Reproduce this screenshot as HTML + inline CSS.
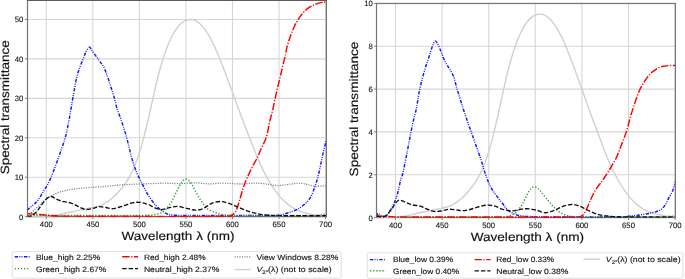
<!DOCTYPE html>
<html><head><meta charset="utf-8"><style>
html,body{margin:0;padding:0;background:#fff;width:685px;height:279px;overflow:hidden;}
svg{display:block;will-change:transform;text-rendering:geometricPrecision;font-family:"Liberation Sans",sans-serif;}
</style></head><body>
<svg width="685" height="279" viewBox="0 0 685 279">
<rect width="685" height="279" fill="#fff"/>
<defs><clipPath id="c1"><rect x="27.50" y="0.30" width="298.90" height="217.50"/></clipPath><clipPath id="c2"><rect x="376.50" y="3.50" width="298.90" height="215.20"/></clipPath></defs>
<line x1="46.30" y1="0.30" x2="46.30" y2="216.60" stroke="#d6d6d6" stroke-width="1.1"/>
<line x1="92.84" y1="0.30" x2="92.84" y2="216.60" stroke="#d6d6d6" stroke-width="1.1"/>
<line x1="139.38" y1="0.30" x2="139.38" y2="216.60" stroke="#d6d6d6" stroke-width="1.1"/>
<line x1="185.92" y1="0.30" x2="185.92" y2="216.60" stroke="#d6d6d6" stroke-width="1.1"/>
<line x1="232.46" y1="0.30" x2="232.46" y2="216.60" stroke="#d6d6d6" stroke-width="1.1"/>
<line x1="279.00" y1="0.30" x2="279.00" y2="216.60" stroke="#d6d6d6" stroke-width="1.1"/>
<line x1="325.54" y1="0.30" x2="325.54" y2="216.60" stroke="#d6d6d6" stroke-width="1.1"/>
<line x1="27.50" y1="216.70" x2="326.40" y2="216.70" stroke="#d6d6d6" stroke-width="1.1"/>
<line x1="27.50" y1="177.25" x2="326.40" y2="177.25" stroke="#d6d6d6" stroke-width="1.1"/>
<line x1="27.50" y1="137.80" x2="326.40" y2="137.80" stroke="#d6d6d6" stroke-width="1.1"/>
<line x1="27.50" y1="98.35" x2="326.40" y2="98.35" stroke="#d6d6d6" stroke-width="1.1"/>
<line x1="27.50" y1="58.90" x2="326.40" y2="58.90" stroke="#d6d6d6" stroke-width="1.1"/>
<line x1="27.50" y1="19.45" x2="326.40" y2="19.45" stroke="#d6d6d6" stroke-width="1.1"/>
<rect x="27.50" y="0.30" width="298.90" height="216.30" fill="none" stroke="#747474" stroke-width="1.2"/>
<line x1="26.90" y1="0.55" x2="327.00" y2="0.55" stroke="#5c5c5c" stroke-width="1.1"/>
<g clip-path="url(#c1)">
<path d="M27.68,216.66 C29.23,216.65 30.78,216.64 32.33,216.62 C33.89,216.60 35.44,216.58 36.99,216.54 C38.54,216.50 40.09,216.46 41.64,216.39 C43.19,216.33 44.75,216.25 46.30,216.15 C47.85,216.05 49.40,215.93 50.95,215.78 C52.50,215.63 54.06,215.47 55.60,215.24 C57.16,215.00 58.72,214.70 60.26,214.37 C61.82,214.04 63.36,213.61 64.91,213.25 C66.46,212.89 68.01,212.55 69.57,212.22 C71.11,211.90 72.67,211.64 74.22,211.32 C75.78,210.99 77.32,210.62 78.87,210.27 C80.43,209.92 81.97,209.55 83.53,209.22 C85.07,208.90 86.63,208.63 88.18,208.34 C89.73,208.04 91.29,207.79 92.84,207.47 C94.39,207.15 95.96,206.85 97.49,206.42 C99.06,205.98 100.67,205.55 102.14,204.86 C103.77,204.11 105.29,203.11 106.80,202.12 C108.40,201.07 109.97,199.97 111.45,198.75 C113.08,197.42 114.63,195.99 116.11,194.49 C117.74,192.83 119.27,191.07 120.76,189.28 C122.37,187.34 123.99,185.39 125.41,183.31 C127.09,180.85 128.68,178.30 130.07,175.67 C131.78,172.43 133.33,169.08 134.72,165.69 C136.43,161.52 138.01,157.28 139.38,152.99 C141.12,147.51 142.57,141.93 144.03,136.36 C145.67,130.09 147.20,123.79 148.68,117.48 C150.30,110.58 151.76,103.64 153.34,96.73 C154.87,90.03 156.29,83.31 157.99,76.65 C159.40,71.14 160.96,65.67 162.65,60.24 C164.06,55.68 165.57,51.12 167.30,46.67 C168.67,43.13 170.22,39.63 171.95,36.25 C173.32,33.58 174.86,30.95 176.61,28.52 C177.96,26.65 179.52,24.84 181.26,23.34 C182.63,22.15 184.26,21.14 185.92,20.45 C187.36,19.84 189.02,19.45 190.57,19.45 C192.12,19.45 193.81,19.79 195.22,20.44 C196.91,21.20 198.49,22.41 199.88,23.67 C201.59,25.23 203.14,27.05 204.53,28.92 C206.24,31.21 207.76,33.66 209.19,36.14 C210.86,39.05 212.39,42.06 213.84,45.09 C215.50,48.57 217.01,52.13 218.49,55.68 C220.11,59.56 221.63,63.47 223.15,67.38 C224.73,71.45 226.27,75.54 227.80,79.63 C229.37,83.83 230.91,88.03 232.46,92.24 C234.01,96.46 235.55,100.68 237.11,104.90 C238.66,109.10 240.19,113.30 241.76,117.48 C243.29,121.55 244.85,125.62 246.42,129.67 C247.95,133.64 249.52,137.59 251.07,141.55 C252.62,145.49 254.13,149.46 255.73,153.38 C257.23,157.08 258.73,160.79 260.38,164.43 C261.83,167.63 263.40,170.78 265.03,173.90 C266.50,176.70 268.06,179.46 269.69,182.18 C271.16,184.65 272.70,187.08 274.34,189.44 C275.81,191.55 277.35,193.62 279.00,195.59 C280.45,197.34 282.02,199.02 283.65,200.60 C285.12,202.04 286.69,203.40 288.30,204.67 C289.79,205.83 291.35,206.92 292.96,207.91 C294.45,208.83 296.01,209.66 297.61,210.39 C299.12,211.07 300.69,211.62 302.27,212.12 C303.79,212.61 305.36,212.97 306.92,213.35 C308.46,213.72 310.01,214.06 311.57,214.35 C313.12,214.64 314.67,214.88 316.23,215.08 C317.77,215.28 319.33,215.44 320.88,215.57 C322.43,215.71 323.98,215.78 325.54,215.89" fill="none" stroke="#d0d0d0" stroke-width="1.4" stroke-linejoin="round"/>
<path d="M27.20,215.80 C28.47,214.83 29.79,213.93 31.00,212.90 C32.96,211.23 34.81,209.45 36.70,207.70 C38.85,205.71 40.93,203.65 43.10,201.70 C44.53,200.42 45.92,199.06 47.50,198.00 C49.15,196.89 51.01,196.08 52.80,195.20 C54.94,194.15 57.04,192.94 59.30,192.20 C62.41,191.18 65.67,190.50 68.90,189.90 C72.64,189.20 76.42,188.72 80.20,188.30 C83.95,187.88 87.73,187.68 91.50,187.40 C95.27,187.12 99.04,186.92 102.80,186.60 C106.57,186.28 110.33,185.84 114.10,185.50 C117.33,185.21 120.56,184.89 123.80,184.70 C129.20,184.39 134.60,184.21 140.00,184.00 C144.00,183.84 148.00,183.73 152.00,183.60 C156.33,183.46 160.67,183.20 165.00,183.20 C170.00,183.20 175.00,183.67 180.00,183.60 C185.00,183.53 190.00,182.75 195.00,182.80 C200.00,182.85 205.00,183.84 210.00,183.90 C214.00,183.94 218.00,183.09 222.00,183.10 C228.00,183.12 234.00,183.98 240.00,184.00 C245.00,184.02 250.00,183.24 255.00,183.20 C258.33,183.17 261.68,183.44 265.00,183.80 C269.02,184.24 272.99,185.48 277.00,185.60 C280.65,185.71 284.33,184.88 288.00,184.50 C292.00,184.08 296.01,183.18 300.00,183.20 C302.68,183.21 305.35,184.07 308.00,184.60 C310.35,185.07 312.63,186.03 315.00,186.20 C318.66,186.46 322.40,186.00 326.10,185.90" fill="none" stroke="#718299" stroke-width="1.3" stroke-dasharray="1.1 1.3" stroke-linejoin="round"/>
<path d="M27.20,210.10 C28.47,208.97 29.73,207.83 31.00,206.70 C32.89,205.03 35.11,203.64 36.70,201.70 C39.15,198.71 41.01,195.19 43.10,191.90 C44.78,189.26 46.55,186.66 48.00,183.90 C49.51,181.03 50.78,178.01 52.00,175.00 C54.01,170.05 55.86,165.02 57.70,160.00 C59.03,156.36 60.26,152.68 61.50,149.00 C62.80,145.14 64.24,141.32 65.30,137.40 C66.58,132.66 67.53,127.82 68.50,123.00 C69.37,118.69 70.05,114.34 70.80,110.00 C71.61,105.30 72.32,100.58 73.20,95.90 C74.55,88.72 75.63,81.44 77.50,74.40 C78.86,69.28 80.99,64.36 82.90,59.40 C83.99,56.56 85.09,53.68 86.50,51.00 C87.25,49.58 88.43,47.29 89.40,47.10 C90.13,46.96 90.89,49.02 91.60,50.00 C93.45,52.55 95.26,55.14 97.10,57.70 C98.52,59.67 99.99,61.62 101.40,63.60 C102.32,64.89 103.36,66.11 104.10,67.50 C104.83,68.88 105.26,70.42 105.80,71.90 C106.73,74.46 107.64,77.02 108.50,79.60 C109.47,82.49 110.37,85.40 111.30,88.30 C112.24,91.23 113.26,94.14 114.10,97.10 C115.23,101.07 115.98,105.16 117.20,109.10 C118.45,113.12 120.17,117.00 121.50,121.00 C123.30,126.43 125.07,131.88 126.60,137.40 C128.67,144.88 130.16,152.54 132.30,160.00 C133.56,164.37 135.08,168.69 136.80,172.90 C138.01,175.86 139.67,178.63 141.10,181.50 C142.90,185.10 144.48,188.83 146.50,192.30 C148.45,195.66 150.58,198.97 153.00,202.00 C155.24,204.81 157.73,207.55 160.50,209.80 C162.73,211.61 165.31,213.28 168.00,214.20 C170.68,215.12 173.72,215.14 176.60,215.30 C181.05,215.54 185.53,215.40 190.00,215.40 C216.67,215.43 243.34,215.52 270.00,215.40 C273.34,215.39 276.73,215.55 280.00,215.00 C283.70,214.38 287.35,213.15 290.90,211.90 C293.68,210.92 296.48,209.80 299.00,208.30 C301.58,206.77 304.07,204.90 306.20,202.80 C308.07,200.97 309.73,198.79 311.00,196.50 C312.47,193.85 313.36,190.87 314.40,188.00 C315.53,184.87 316.62,181.71 317.50,178.50 C318.58,174.58 319.42,170.58 320.30,166.60 C321.08,163.08 321.71,159.52 322.50,156.00 C323.64,150.92 324.90,145.87 326.10,140.80" fill="none" stroke="#1414ff" stroke-width="1.45" stroke-dasharray="3.4 1.25 0.95 1.25 0.95 1.5" stroke-linejoin="round"/>
<path d="M27.20,215.40 C64.80,215.40 102.40,215.46 140.00,215.40 C142.67,215.40 145.34,215.31 148.00,215.20 C150.10,215.11 152.25,215.21 154.30,214.80 C156.75,214.31 159.40,213.78 161.50,212.50 C164.20,210.85 166.70,208.49 168.70,206.00 C170.87,203.29 172.33,199.99 174.00,196.90 C175.60,193.95 176.90,190.85 178.50,187.90 C179.74,185.61 180.90,183.18 182.50,181.20 C183.30,180.21 184.60,179.07 185.70,179.00 C186.77,178.93 188.11,179.95 189.00,180.80 C190.38,182.12 191.48,183.84 192.50,185.50 C193.68,187.41 194.50,189.54 195.60,191.50 C197.30,194.54 198.91,197.65 200.90,200.50 C203.08,203.62 205.24,207.04 208.10,209.40 C210.08,211.04 212.92,211.59 215.40,212.50 C217.39,213.23 219.44,213.82 221.50,214.30 C223.47,214.76 225.49,215.12 227.50,215.30 C229.99,215.52 232.50,215.49 235.00,215.50 C260.67,215.56 286.33,215.56 312.00,215.50 C314.00,215.50 316.01,215.44 318.00,215.30 C319.34,215.21 320.67,215.01 322.00,214.80 C323.37,214.58 324.73,214.27 326.10,214.00" fill="none" stroke="#2a9a2a" stroke-width="1.45" stroke-dasharray="1.25 1.85" stroke-linejoin="round"/>
<path d="M27.20,213.60 C29.80,213.80 32.40,214.00 35.00,214.20 C38.33,214.46 41.67,214.75 45.00,215.00 C48.33,215.25 51.66,215.52 55.00,215.70 C58.33,215.88 61.66,216.09 65.00,216.10 C119.33,216.29 173.70,216.50 228.00,216.30 C229.20,216.30 230.43,215.98 231.50,215.50 C232.43,215.08 233.28,214.35 234.00,213.60 C234.82,212.75 235.64,211.79 236.10,210.70 C237.48,207.42 238.43,203.92 239.50,200.50 C240.63,196.89 241.53,193.20 242.70,189.60 C243.70,186.53 244.80,183.49 246.00,180.50 C247.00,177.99 248.16,175.55 249.30,173.10 C250.56,170.38 251.82,167.66 253.20,165.00 C254.35,162.79 255.81,160.74 256.90,158.50 C258.41,155.40 259.58,152.14 261.00,149.00 C262.28,146.14 263.77,143.38 265.00,140.50 C265.77,138.71 266.53,136.89 267.00,135.00 C268.07,130.69 268.61,126.24 269.60,121.90 C270.51,117.91 271.76,113.99 272.70,110.00 C273.66,105.95 274.41,101.86 275.30,97.80 C276.01,94.53 276.73,91.26 277.50,88.00 C278.26,84.76 279.13,81.54 279.90,78.30 C281.03,73.54 282.06,68.76 283.20,64.00 C283.76,61.66 284.47,59.35 285.00,57.00 C285.83,53.32 286.29,49.53 287.30,45.90 C288.56,41.37 290.11,36.89 291.80,32.50 C293.11,29.09 294.51,25.67 296.30,22.50 C298.14,19.24 300.25,16.02 302.70,13.20 C304.68,10.92 307.10,8.90 309.60,7.20 C311.70,5.77 314.13,4.76 316.50,3.80 C317.93,3.22 319.48,2.85 321.00,2.60 C322.68,2.32 324.40,2.33 326.10,2.20" fill="none" stroke="#ff0000" stroke-width="1.45" stroke-dasharray="7.4 1.6 1.2 1.6" stroke-linejoin="round"/>
<path d="M27.20,216.10 C28.73,216.00 30.47,216.41 31.80,215.80 C33.64,214.95 35.29,213.27 36.70,211.70 C38.52,209.67 39.84,207.19 41.50,205.00 C43.07,202.92 44.48,200.58 46.40,198.90 C47.72,197.75 49.60,196.50 51.20,196.50 C52.80,196.50 54.36,198.18 56.00,198.90 C57.86,199.72 59.75,200.55 61.70,201.10 C64.05,201.75 66.53,201.91 68.90,202.50 C70.56,202.91 72.23,203.41 73.80,204.10 C76.00,205.07 78.00,206.52 80.20,207.50 C82.03,208.32 83.95,209.36 85.90,209.50 C88.25,209.66 90.73,208.91 93.10,208.40 C95.03,207.98 96.86,206.84 98.80,206.70 C101.16,206.54 103.61,207.15 106.00,207.50 C108.18,207.82 110.35,208.78 112.50,208.70 C114.91,208.61 117.32,207.64 119.70,207.00 C121.89,206.41 124.05,205.72 126.20,205.00 C128.15,204.35 130.01,203.32 132.00,202.90 C134.27,202.42 136.69,202.12 139.00,202.30 C141.76,202.52 144.58,203.18 147.20,204.10 C150.28,205.18 153.05,207.13 156.10,208.30 C157.82,208.96 159.70,209.67 161.50,209.60 C163.90,209.50 166.28,208.29 168.70,207.80 C171.54,207.22 174.44,206.32 177.30,206.40 C180.41,206.49 183.50,207.67 186.60,208.30 C189.60,208.91 192.60,210.01 195.60,210.10 C197.96,210.17 200.52,209.72 202.70,208.80 C205.89,207.45 208.49,204.61 211.70,203.30 C214.46,202.17 217.64,201.45 220.60,201.50 C223.61,201.55 226.67,202.68 229.60,203.60 C232.37,204.48 235.01,205.79 237.70,206.90 C240.81,208.19 243.82,209.72 247.00,210.80 C250.59,212.02 254.30,212.98 258.00,213.80 C260.63,214.38 263.32,214.72 266.00,215.00 C269.15,215.32 272.33,215.48 275.50,215.60 C278.66,215.72 281.83,215.69 285.00,215.70 C298.70,215.73 312.40,215.70 326.10,215.70" fill="none" stroke="#111111" stroke-width="1.35" stroke-dasharray="4.5 1.9" stroke-linejoin="round"/>
</g>
<line x1="46.30" y1="216.60" x2="46.30" y2="219.20" stroke="#747474" stroke-width="0.9"/>
<text x="39.85" y="227.10" font-size="7.80" fill="#111" stroke="#111" stroke-width="0.1" textLength="12.90" lengthAdjust="spacingAndGlyphs" font-family="Liberation Sans, sans-serif">400</text>
<line x1="92.84" y1="216.60" x2="92.84" y2="219.20" stroke="#747474" stroke-width="0.9"/>
<text x="86.39" y="227.10" font-size="7.80" fill="#111" stroke="#111" stroke-width="0.1" textLength="12.90" lengthAdjust="spacingAndGlyphs" font-family="Liberation Sans, sans-serif">450</text>
<line x1="139.38" y1="216.60" x2="139.38" y2="219.20" stroke="#747474" stroke-width="0.9"/>
<text x="132.93" y="227.10" font-size="7.80" fill="#111" stroke="#111" stroke-width="0.1" textLength="12.90" lengthAdjust="spacingAndGlyphs" font-family="Liberation Sans, sans-serif">500</text>
<line x1="185.92" y1="216.60" x2="185.92" y2="219.20" stroke="#747474" stroke-width="0.9"/>
<text x="179.47" y="227.10" font-size="7.80" fill="#111" stroke="#111" stroke-width="0.1" textLength="12.90" lengthAdjust="spacingAndGlyphs" font-family="Liberation Sans, sans-serif">550</text>
<line x1="232.46" y1="216.60" x2="232.46" y2="219.20" stroke="#747474" stroke-width="0.9"/>
<text x="226.01" y="227.10" font-size="7.80" fill="#111" stroke="#111" stroke-width="0.1" textLength="12.90" lengthAdjust="spacingAndGlyphs" font-family="Liberation Sans, sans-serif">600</text>
<line x1="279.00" y1="216.60" x2="279.00" y2="219.20" stroke="#747474" stroke-width="0.9"/>
<text x="272.55" y="227.10" font-size="7.80" fill="#111" stroke="#111" stroke-width="0.1" textLength="12.90" lengthAdjust="spacingAndGlyphs" font-family="Liberation Sans, sans-serif">650</text>
<line x1="325.54" y1="216.60" x2="325.54" y2="219.20" stroke="#747474" stroke-width="0.9"/>
<text x="319.09" y="227.10" font-size="7.80" fill="#111" stroke="#111" stroke-width="0.1" textLength="12.90" lengthAdjust="spacingAndGlyphs" font-family="Liberation Sans, sans-serif">700</text>
<line x1="24.90" y1="216.70" x2="27.50" y2="216.70" stroke="#747474" stroke-width="0.9"/>
<text x="19.10" y="219.60" font-size="7.80" fill="#111" stroke="#111" stroke-width="0.1" textLength="4.30" lengthAdjust="spacingAndGlyphs" font-family="Liberation Sans, sans-serif">0</text>
<line x1="24.90" y1="177.25" x2="27.50" y2="177.25" stroke="#747474" stroke-width="0.9"/>
<text x="14.80" y="180.15" font-size="7.80" fill="#111" stroke="#111" stroke-width="0.1" textLength="8.60" lengthAdjust="spacingAndGlyphs" font-family="Liberation Sans, sans-serif">10</text>
<line x1="24.90" y1="137.80" x2="27.50" y2="137.80" stroke="#747474" stroke-width="0.9"/>
<text x="14.80" y="140.70" font-size="7.80" fill="#111" stroke="#111" stroke-width="0.1" textLength="8.60" lengthAdjust="spacingAndGlyphs" font-family="Liberation Sans, sans-serif">20</text>
<line x1="24.90" y1="98.35" x2="27.50" y2="98.35" stroke="#747474" stroke-width="0.9"/>
<text x="14.80" y="101.25" font-size="7.80" fill="#111" stroke="#111" stroke-width="0.1" textLength="8.60" lengthAdjust="spacingAndGlyphs" font-family="Liberation Sans, sans-serif">30</text>
<line x1="24.90" y1="58.90" x2="27.50" y2="58.90" stroke="#747474" stroke-width="0.9"/>
<text x="14.80" y="61.80" font-size="7.80" fill="#111" stroke="#111" stroke-width="0.1" textLength="8.60" lengthAdjust="spacingAndGlyphs" font-family="Liberation Sans, sans-serif">40</text>
<line x1="24.90" y1="19.45" x2="27.50" y2="19.45" stroke="#747474" stroke-width="0.9"/>
<text x="14.80" y="22.35" font-size="7.80" fill="#111" stroke="#111" stroke-width="0.1" textLength="8.60" lengthAdjust="spacingAndGlyphs" font-family="Liberation Sans, sans-serif">50</text>
<line x1="395.50" y1="3.50" x2="395.50" y2="217.50" stroke="#d6d6d6" stroke-width="1.1"/>
<line x1="442.10" y1="3.50" x2="442.10" y2="217.50" stroke="#d6d6d6" stroke-width="1.1"/>
<line x1="488.70" y1="3.50" x2="488.70" y2="217.50" stroke="#d6d6d6" stroke-width="1.1"/>
<line x1="535.30" y1="3.50" x2="535.30" y2="217.50" stroke="#d6d6d6" stroke-width="1.1"/>
<line x1="581.90" y1="3.50" x2="581.90" y2="217.50" stroke="#d6d6d6" stroke-width="1.1"/>
<line x1="628.50" y1="3.50" x2="628.50" y2="217.50" stroke="#d6d6d6" stroke-width="1.1"/>
<line x1="675.10" y1="3.50" x2="675.10" y2="217.50" stroke="#d6d6d6" stroke-width="1.1"/>
<line x1="376.50" y1="217.60" x2="675.40" y2="217.60" stroke="#d6d6d6" stroke-width="1.1"/>
<line x1="376.50" y1="174.76" x2="675.40" y2="174.76" stroke="#d6d6d6" stroke-width="1.1"/>
<line x1="376.50" y1="131.92" x2="675.40" y2="131.92" stroke="#d6d6d6" stroke-width="1.1"/>
<line x1="376.50" y1="89.08" x2="675.40" y2="89.08" stroke="#d6d6d6" stroke-width="1.1"/>
<line x1="376.50" y1="46.24" x2="675.40" y2="46.24" stroke="#d6d6d6" stroke-width="1.1"/>
<line x1="376.50" y1="3.40" x2="675.40" y2="3.40" stroke="#d6d6d6" stroke-width="1.1"/>
<rect x="376.50" y="3.50" width="298.90" height="214.00" fill="none" stroke="#747474" stroke-width="1.2"/>
<g clip-path="url(#c2)">
<path d="M376.86,217.56 C378.41,217.55 379.97,217.54 381.52,217.52 C383.07,217.50 384.63,217.48 386.18,217.44 C387.73,217.40 389.29,217.35 390.84,217.28 C392.39,217.22 393.95,217.14 395.50,217.03 C397.05,216.92 398.61,216.81 400.16,216.65 C401.72,216.50 403.28,216.33 404.82,216.09 C406.38,215.85 407.94,215.54 409.48,215.20 C411.04,214.85 412.58,214.41 414.14,214.04 C415.69,213.67 417.24,213.31 418.80,212.98 C420.35,212.65 421.91,212.38 423.46,212.04 C425.02,211.71 426.57,211.33 428.12,210.97 C429.67,210.61 431.22,210.22 432.78,209.89 C434.33,209.56 435.89,209.27 437.44,208.97 C438.99,208.67 440.55,208.40 442.10,208.08 C443.66,207.75 445.23,207.44 446.76,207.00 C448.34,206.54 449.94,206.09 451.42,205.39 C453.05,204.61 454.58,203.58 456.08,202.56 C457.68,201.48 459.26,200.34 460.74,199.09 C462.37,197.71 463.93,196.23 465.40,194.69 C467.03,192.97 468.57,191.15 470.06,189.31 C471.68,187.31 473.30,185.29 474.72,183.15 C476.40,180.61 477.99,177.98 479.38,175.27 C481.10,171.92 482.65,168.47 484.04,164.98 C485.75,160.67 487.34,156.30 488.70,151.87 C490.44,146.21 491.90,140.46 493.36,134.72 C495.01,128.25 496.54,121.75 498.02,115.24 C499.64,108.12 501.10,100.97 502.68,93.84 C504.21,86.93 505.64,79.99 507.34,73.12 C508.75,67.44 510.31,61.79 512.00,56.19 C513.42,51.48 514.93,46.79 516.66,42.19 C518.04,38.54 519.58,34.93 521.32,31.44 C522.69,28.69 524.22,25.98 525.98,23.47 C527.33,21.54 528.89,19.68 530.64,18.12 C532.00,16.90 533.63,15.86 535.30,15.14 C536.74,14.52 538.41,14.11 539.96,14.11 C541.51,14.11 543.21,14.47 544.62,15.13 C546.32,15.92 547.90,17.17 549.28,18.46 C551.00,20.08 552.55,21.96 553.94,23.88 C555.65,26.24 557.17,28.77 558.60,31.33 C560.28,34.33 561.81,37.43 563.26,40.56 C564.92,44.16 566.43,47.82 567.92,51.49 C569.54,55.49 571.06,59.52 572.58,63.56 C574.16,67.76 575.71,71.98 577.24,76.19 C578.81,80.52 580.35,84.86 581.90,89.20 C583.46,93.55 585.00,97.91 586.56,102.26 C588.11,106.59 589.64,110.92 591.22,115.24 C592.75,119.44 594.31,123.64 595.88,127.82 C597.42,131.91 598.98,135.99 600.54,140.07 C602.09,144.14 603.60,148.23 605.20,152.28 C606.71,156.10 608.21,159.92 609.86,163.68 C611.31,166.98 612.88,170.23 614.52,173.44 C615.99,176.33 617.55,179.19 619.18,181.99 C620.66,184.53 622.20,187.04 623.84,189.48 C625.31,191.65 626.85,193.79 628.50,195.83 C629.96,197.63 631.53,199.35 633.16,201.00 C634.63,202.47 636.20,203.88 637.82,205.19 C639.30,206.39 640.87,207.51 642.48,208.53 C643.97,209.47 645.54,210.34 647.14,211.09 C648.64,211.79 650.22,212.36 651.80,212.88 C653.33,213.38 654.90,213.76 656.46,214.14 C658.00,214.52 659.56,214.87 661.12,215.17 C662.66,215.47 664.22,215.72 665.78,215.93 C667.33,216.14 668.88,216.30 670.44,216.44 C671.99,216.57 673.55,216.66 675.10,216.77" fill="none" stroke="#d0d0d0" stroke-width="1.4" stroke-linejoin="round"/>
<path d="M376.60,213.20 C377.17,214.03 377.75,215.49 378.30,215.70 C378.62,215.82 378.85,214.23 379.20,214.20 C379.55,214.17 379.95,215.13 380.40,215.50 C380.85,215.88 381.35,216.30 381.90,216.45 C382.55,216.62 383.32,216.58 384.00,216.45 C384.99,216.26 386.21,216.18 386.90,215.50 C388.37,214.06 389.42,211.97 390.50,210.10 C391.82,207.83 393.03,205.49 394.10,203.10 C395.16,200.72 396.12,198.28 396.90,195.80 C397.79,192.98 398.42,190.08 399.10,187.20 C399.62,184.98 399.91,182.70 400.50,180.50 C401.11,178.23 402.13,176.08 402.70,173.80 C403.83,169.24 404.67,164.61 405.60,160.00 C406.61,155.01 407.54,150.00 408.50,145.00 C409.34,140.63 410.13,136.26 411.00,131.90 C411.79,127.93 412.58,123.95 413.50,120.00 C414.28,116.65 415.42,113.37 416.10,110.00 C417.52,103.01 418.31,95.88 419.80,88.90 C421.14,82.64 422.82,76.45 424.60,70.30 C426.09,65.15 427.94,60.10 429.60,55.00 C430.57,52.00 431.36,48.93 432.50,46.00 C433.19,44.23 434.09,41.24 435.10,40.90 C435.85,40.64 437.10,42.98 437.80,44.20 C438.93,46.18 439.72,48.38 440.60,50.50 C442.12,54.15 443.25,57.97 445.00,61.50 C446.52,64.57 448.70,67.31 450.40,70.30 C451.60,72.41 452.89,74.52 453.70,76.80 C455.09,80.72 455.82,84.89 457.00,88.90 C458.09,92.62 459.35,96.30 460.50,100.00 C461.38,102.83 462.18,105.68 463.10,108.50 C464.35,112.35 465.68,116.17 467.00,120.00 C468.38,123.97 469.80,127.93 471.20,131.90 C472.80,136.43 474.40,140.97 476.00,145.50 C477.70,150.33 479.49,155.14 481.10,160.00 C482.66,164.70 483.82,169.54 485.50,174.20 C487.12,178.71 488.74,183.30 491.00,187.50 C493.11,191.43 495.98,194.97 498.60,198.60 C500.14,200.73 501.88,202.72 503.50,204.80 C504.74,206.39 505.73,208.26 507.20,209.60 C508.76,211.02 510.71,212.10 512.60,213.10 C514.31,214.00 516.15,214.76 518.00,215.30 C519.38,215.71 520.86,215.80 522.30,215.95 C524.86,216.22 527.43,216.40 530.00,216.55 C533.33,216.74 536.66,216.94 540.00,216.95 C566.66,217.07 593.34,217.16 620.00,216.95 C623.01,216.93 626.01,216.54 629.00,216.25 C631.97,215.96 634.94,215.59 637.90,215.20 C639.94,214.94 641.97,214.64 644.00,214.30 C646.34,213.91 648.69,213.53 651.00,213.00 C653.09,212.53 655.20,212.04 657.20,211.30 C658.70,210.74 660.20,210.01 661.50,209.10 C662.53,208.38 663.44,207.41 664.20,206.40 C665.10,205.21 665.79,203.83 666.50,202.50 C667.55,200.53 668.46,198.48 669.50,196.50 C670.53,194.55 671.90,192.74 672.70,190.70 C673.80,187.88 674.37,184.83 675.20,181.90" fill="none" stroke="#1414ff" stroke-width="1.45" stroke-dasharray="3.4 1.25 0.95 1.25 0.95 1.5" stroke-linejoin="round"/>
<path d="M376.40,216.85 C417.60,216.85 458.80,216.98 500.00,216.85 C502.00,216.84 504.02,216.71 506.00,216.45 C507.48,216.26 509.02,216.04 510.40,215.50 C512.28,214.76 514.29,213.92 515.80,212.60 C517.89,210.78 519.60,208.40 521.20,206.10 C522.47,204.27 523.37,202.19 524.40,200.20 C525.87,197.35 527.12,194.38 528.70,191.60 C529.32,190.51 530.07,189.41 531.00,188.60 C531.94,187.78 533.18,186.72 534.30,186.70 C535.51,186.68 537.00,187.60 538.00,188.50 C540.07,190.37 541.67,192.83 543.50,195.00 C545.34,197.19 547.13,199.44 549.00,201.60 C550.79,203.67 552.49,205.86 554.50,207.70 C556.82,209.83 559.27,212.01 562.00,213.50 C564.37,214.79 567.13,215.55 569.80,216.05 C573.13,216.67 576.59,216.82 580.00,216.85 C608.32,217.09 636.67,217.01 665.00,216.85 C666.67,216.84 668.33,216.49 670.00,216.35 C671.73,216.21 673.47,216.12 675.20,216.00" fill="none" stroke="#2a9a2a" stroke-width="1.45" stroke-dasharray="1.25 1.85" stroke-linejoin="round"/>
<path d="M376.40,215.80 C379.27,215.98 382.13,216.19 385.00,216.35 C388.33,216.54 391.66,216.84 395.00,216.85 C456.00,217.01 517.02,217.01 578.00,216.85 C578.92,216.85 579.87,216.69 580.70,216.35 C581.70,215.94 582.80,215.41 583.50,214.60 C584.63,213.29 585.43,211.60 586.20,210.00 C587.60,207.10 588.68,204.04 590.00,201.10 C591.25,198.31 592.47,195.49 593.90,192.80 C594.97,190.79 596.20,188.86 597.50,187.00 C598.73,185.23 600.23,183.65 601.50,181.90 C602.90,179.98 604.19,177.98 605.50,176.00 C606.83,173.98 608.15,171.96 609.40,169.90 C610.58,167.96 611.67,165.97 612.80,164.00 C613.94,162.00 615.25,160.09 616.20,158.00 C617.98,154.09 619.45,150.02 621.00,146.00 C622.81,141.32 624.76,136.67 626.30,131.90 C627.99,126.67 629.17,121.28 630.70,116.00 C631.57,112.98 632.54,109.99 633.50,107.00 C634.47,103.99 635.41,100.97 636.50,98.00 C637.55,95.14 638.62,92.26 639.90,89.50 C640.78,87.60 641.93,85.81 643.00,84.00 C643.96,82.38 644.93,80.75 646.00,79.20 C646.93,77.85 647.92,76.53 649.00,75.30 C650.05,74.10 651.19,72.94 652.40,71.90 C653.52,70.94 654.73,70.05 656.00,69.30 C657.43,68.45 658.95,67.70 660.50,67.10 C661.62,66.67 662.82,66.42 664.00,66.20 C665.48,65.92 666.99,65.71 668.50,65.60 C670.73,65.44 672.97,65.47 675.20,65.40" fill="none" stroke="#ff0000" stroke-width="1.45" stroke-dasharray="7.4 1.6 1.2 1.6" stroke-linejoin="round"/>
<path d="M376.60,216.35 C379.07,216.45 381.76,217.25 384.00,216.65 C385.66,216.20 387.03,214.51 388.30,213.20 C389.89,211.56 391.27,209.67 392.60,207.80 C393.67,206.30 394.33,204.49 395.50,203.10 C396.49,201.92 397.74,200.34 399.10,200.10 C400.61,199.84 402.48,200.98 404.10,201.60 C406.51,202.52 408.75,203.96 411.20,204.70 C413.05,205.26 415.09,205.12 417.00,205.50 C418.92,205.88 420.86,206.33 422.70,207.00 C424.53,207.66 426.18,208.79 428.00,209.50 C429.95,210.26 431.95,211.16 434.00,211.40 C436.28,211.66 438.69,211.31 441.00,211.00 C443.82,210.61 446.58,209.51 449.40,209.30 C451.58,209.14 453.80,209.67 456.00,209.90 C458.17,210.13 460.34,210.76 462.50,210.70 C465.01,210.63 467.54,210.09 470.00,209.50 C472.71,208.85 475.30,207.70 478.00,207.00 C480.83,206.27 483.71,205.40 486.60,205.20 C489.04,205.03 491.62,205.29 494.00,205.90 C497.09,206.69 499.92,208.52 503.00,209.40 C505.75,210.19 508.66,210.81 511.50,210.90 C513.66,210.97 515.84,210.25 518.00,209.90 C520.14,209.55 522.25,208.98 524.40,208.80 C526.25,208.65 528.15,208.68 530.00,208.90 C532.35,209.18 534.70,209.70 537.00,210.30 C539.57,210.97 542.03,212.53 544.60,212.70 C547.03,212.86 549.62,212.03 552.00,211.30 C554.08,210.66 555.99,209.48 558.00,208.60 C560.32,207.58 562.58,206.31 565.00,205.60 C567.25,204.94 569.68,204.45 572.00,204.50 C574.34,204.55 576.78,205.10 579.00,205.90 C581.88,206.94 584.51,208.69 587.30,210.00 C589.84,211.19 592.37,212.43 595.00,213.40 C597.27,214.23 599.63,214.94 602.00,215.40 C604.36,215.86 606.80,215.96 609.20,216.15 C612.80,216.44 616.39,216.81 620.00,216.85 C638.39,217.05 656.80,216.85 675.20,216.85" fill="none" stroke="#111111" stroke-width="1.35" stroke-dasharray="4.5 1.9" stroke-linejoin="round"/>
</g>
<line x1="395.50" y1="217.50" x2="395.50" y2="220.10" stroke="#747474" stroke-width="0.9"/>
<text x="389.05" y="227.60" font-size="7.80" fill="#111" stroke="#111" stroke-width="0.1" textLength="12.90" lengthAdjust="spacingAndGlyphs" font-family="Liberation Sans, sans-serif">400</text>
<line x1="442.10" y1="217.50" x2="442.10" y2="220.10" stroke="#747474" stroke-width="0.9"/>
<text x="435.65" y="227.60" font-size="7.80" fill="#111" stroke="#111" stroke-width="0.1" textLength="12.90" lengthAdjust="spacingAndGlyphs" font-family="Liberation Sans, sans-serif">450</text>
<line x1="488.70" y1="217.50" x2="488.70" y2="220.10" stroke="#747474" stroke-width="0.9"/>
<text x="482.25" y="227.60" font-size="7.80" fill="#111" stroke="#111" stroke-width="0.1" textLength="12.90" lengthAdjust="spacingAndGlyphs" font-family="Liberation Sans, sans-serif">500</text>
<line x1="535.30" y1="217.50" x2="535.30" y2="220.10" stroke="#747474" stroke-width="0.9"/>
<text x="528.85" y="227.60" font-size="7.80" fill="#111" stroke="#111" stroke-width="0.1" textLength="12.90" lengthAdjust="spacingAndGlyphs" font-family="Liberation Sans, sans-serif">550</text>
<line x1="581.90" y1="217.50" x2="581.90" y2="220.10" stroke="#747474" stroke-width="0.9"/>
<text x="575.45" y="227.60" font-size="7.80" fill="#111" stroke="#111" stroke-width="0.1" textLength="12.90" lengthAdjust="spacingAndGlyphs" font-family="Liberation Sans, sans-serif">600</text>
<line x1="628.50" y1="217.50" x2="628.50" y2="220.10" stroke="#747474" stroke-width="0.9"/>
<text x="622.05" y="227.60" font-size="7.80" fill="#111" stroke="#111" stroke-width="0.1" textLength="12.90" lengthAdjust="spacingAndGlyphs" font-family="Liberation Sans, sans-serif">650</text>
<line x1="675.10" y1="217.50" x2="675.10" y2="220.10" stroke="#747474" stroke-width="0.9"/>
<text x="668.65" y="227.60" font-size="7.80" fill="#111" stroke="#111" stroke-width="0.1" textLength="12.90" lengthAdjust="spacingAndGlyphs" font-family="Liberation Sans, sans-serif">700</text>
<line x1="373.90" y1="217.60" x2="376.50" y2="217.60" stroke="#747474" stroke-width="0.9"/>
<text x="368.60" y="220.50" font-size="7.80" fill="#111" stroke="#111" stroke-width="0.1" textLength="4.30" lengthAdjust="spacingAndGlyphs" font-family="Liberation Sans, sans-serif">0</text>
<line x1="373.90" y1="174.76" x2="376.50" y2="174.76" stroke="#747474" stroke-width="0.9"/>
<text x="368.60" y="177.66" font-size="7.80" fill="#111" stroke="#111" stroke-width="0.1" textLength="4.30" lengthAdjust="spacingAndGlyphs" font-family="Liberation Sans, sans-serif">2</text>
<line x1="373.90" y1="131.92" x2="376.50" y2="131.92" stroke="#747474" stroke-width="0.9"/>
<text x="368.60" y="134.82" font-size="7.80" fill="#111" stroke="#111" stroke-width="0.1" textLength="4.30" lengthAdjust="spacingAndGlyphs" font-family="Liberation Sans, sans-serif">4</text>
<line x1="373.90" y1="89.08" x2="376.50" y2="89.08" stroke="#747474" stroke-width="0.9"/>
<text x="368.60" y="91.98" font-size="7.80" fill="#111" stroke="#111" stroke-width="0.1" textLength="4.30" lengthAdjust="spacingAndGlyphs" font-family="Liberation Sans, sans-serif">6</text>
<line x1="373.90" y1="46.24" x2="376.50" y2="46.24" stroke="#747474" stroke-width="0.9"/>
<text x="368.60" y="49.14" font-size="7.80" fill="#111" stroke="#111" stroke-width="0.1" textLength="4.30" lengthAdjust="spacingAndGlyphs" font-family="Liberation Sans, sans-serif">8</text>
<line x1="373.90" y1="3.40" x2="376.50" y2="3.40" stroke="#747474" stroke-width="0.9"/>
<text x="364.30" y="6.30" font-size="7.80" fill="#111" stroke="#111" stroke-width="0.1" textLength="8.60" lengthAdjust="spacingAndGlyphs" font-family="Liberation Sans, sans-serif">10</text>
<text x="121.60" y="239.70" font-size="12" fill="#111" stroke="#111" stroke-width="0.15" textLength="112.80" lengthAdjust="spacingAndGlyphs" font-family="Liberation Sans, sans-serif">Wavelength λ (nm)</text>
<text x="470.70" y="240.90" font-size="12" fill="#111" stroke="#111" stroke-width="0.15" textLength="113.40" lengthAdjust="spacingAndGlyphs" font-family="Liberation Sans, sans-serif">Wavelength λ (nm)</text>
<text transform="translate(9.40,174.30) rotate(-90)" x="0" y="0" font-size="12" fill="#111" stroke="#111" stroke-width="0.15" textLength="134.10" lengthAdjust="spacingAndGlyphs" font-family="Liberation Sans, sans-serif">Spectral transmittance</text>
<text transform="translate(357.90,176.40) rotate(-90)" x="0" y="0" font-size="12" fill="#111" stroke="#111" stroke-width="0.15" textLength="134.70" lengthAdjust="spacingAndGlyphs" font-family="Liberation Sans, sans-serif">Spectral transmittance</text>
<rect x="12.20" y="251.60" width="329.00" height="26.50" rx="1.8" ry="1.8" fill="#fff" stroke="#dcdcdc" stroke-width="0.9"/>
<line x1="14.70" y1="256.80" x2="30.00" y2="256.80" stroke="#1414ff" stroke-width="1.45" stroke-dasharray="3.4 1.25 0.95 1.25 0.95 1.5"/>
<text x="35.90" y="260.00" font-size="7.7" fill="#111" stroke="#111" stroke-width="0.12" textLength="64.40" lengthAdjust="spacingAndGlyphs" font-family="Liberation Sans, sans-serif">Blue_high 2.25%</text>
<line x1="14.70" y1="268.60" x2="30.00" y2="268.60" stroke="#2a9a2a" stroke-width="1.45" stroke-dasharray="1.25 1.85"/>
<text x="35.90" y="271.60" font-size="7.7" fill="#111" stroke="#111" stroke-width="0.12" textLength="70.40" lengthAdjust="spacingAndGlyphs" font-family="Liberation Sans, sans-serif">Green_high 2.67%</text>
<line x1="122.20" y1="256.80" x2="138.00" y2="256.80" stroke="#ff0000" stroke-width="1.45" stroke-dasharray="7.4 1.6 1.2 1.6"/>
<text x="143.90" y="260.00" font-size="7.7" fill="#111" stroke="#111" stroke-width="0.12" textLength="61.80" lengthAdjust="spacingAndGlyphs" font-family="Liberation Sans, sans-serif">Red_high 2.48%</text>
<line x1="122.20" y1="268.60" x2="138.00" y2="268.60" stroke="#111111" stroke-width="1.35" stroke-dasharray="4.5 1.9"/>
<text x="143.90" y="271.60" font-size="7.7" fill="#111" stroke="#111" stroke-width="0.12" textLength="75.60" lengthAdjust="spacingAndGlyphs" font-family="Liberation Sans, sans-serif">Neutral_high 2.37%</text>
<line x1="234.70" y1="256.80" x2="250.90" y2="256.80" stroke="#718299" stroke-width="1.3" stroke-dasharray="1.1 1.3"/>
<text x="256.50" y="260.00" font-size="7.7" fill="#111" stroke="#111" stroke-width="0.12" textLength="81.90" lengthAdjust="spacingAndGlyphs" font-family="Liberation Sans, sans-serif">View Windows 8.28%</text>
<line x1="234.70" y1="269.60" x2="250.90" y2="269.60" stroke="#d0d0d0" stroke-width="1.4"/>
<text x="256.50" y="271.60" font-size="7.7" fill="#111" stroke="#111" stroke-width="0.12" textLength="75.20" lengthAdjust="spacingAndGlyphs" font-family="Liberation Sans, sans-serif"><tspan font-style="italic">V</tspan><tspan font-size="5.2" dy="2.0">2°</tspan><tspan dy="-2.0">(λ) (not to scale)</tspan></text>
<rect x="367.20" y="252.80" width="315.70" height="25.40" rx="1.8" ry="1.8" fill="#fff" stroke="#dcdcdc" stroke-width="0.9"/>
<line x1="370.00" y1="259.60" x2="385.70" y2="259.60" stroke="#1414ff" stroke-width="1.45" stroke-dasharray="3.4 1.25 0.95 1.25 0.95 1.5"/>
<text x="392.90" y="262.40" font-size="7.7" fill="#111" stroke="#111" stroke-width="0.12" textLength="60.30" lengthAdjust="spacingAndGlyphs" font-family="Liberation Sans, sans-serif">Blue_low 0.39%</text>
<line x1="370.00" y1="270.80" x2="385.70" y2="270.80" stroke="#2a9a2a" stroke-width="1.45" stroke-dasharray="1.25 1.85"/>
<text x="392.90" y="274.20" font-size="7.7" fill="#111" stroke="#111" stroke-width="0.12" textLength="66.30" lengthAdjust="spacingAndGlyphs" font-family="Liberation Sans, sans-serif">Green_low 0.40%</text>
<line x1="474.50" y1="259.60" x2="490.60" y2="259.60" stroke="#ff0000" stroke-width="1.45" stroke-dasharray="7.4 1.6 1.2 1.6"/>
<text x="496.20" y="262.40" font-size="7.7" fill="#111" stroke="#111" stroke-width="0.12" textLength="58.00" lengthAdjust="spacingAndGlyphs" font-family="Liberation Sans, sans-serif">Red_low 0.33%</text>
<line x1="474.50" y1="270.80" x2="490.60" y2="270.80" stroke="#111111" stroke-width="1.35" stroke-dasharray="4.5 1.9"/>
<text x="496.20" y="274.20" font-size="7.7" fill="#111" stroke="#111" stroke-width="0.12" textLength="72.20" lengthAdjust="spacingAndGlyphs" font-family="Liberation Sans, sans-serif">Neutral_low 0.38%</text>
<line x1="583.40" y1="259.20" x2="599.90" y2="259.20" stroke="#d0d0d0" stroke-width="1.4"/>
<text x="605.80" y="262.40" font-size="7.7" fill="#111" stroke="#111" stroke-width="0.12" textLength="74.80" lengthAdjust="spacingAndGlyphs" font-family="Liberation Sans, sans-serif"><tspan font-style="italic">V</tspan><tspan font-size="5.2" dy="2.0">2°</tspan><tspan dy="-2.0">(λ) (not to scale)</tspan></text>
</svg>
</body></html>
